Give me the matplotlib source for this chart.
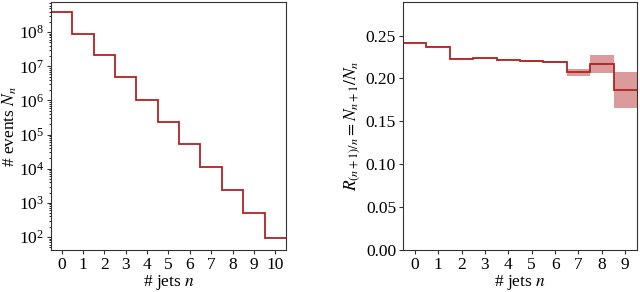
import numpy as np
import matplotlib
matplotlib.use('Agg')
import matplotlib.pyplot as plt
from matplotlib.ticker import LogLocator, NullFormatter

plt.rcParams['font.family'] = ['Liberation Serif', 'DejaVu Serif']
plt.rcParams['mathtext.fontset'] = 'stix'
plt.rcParams['font.size'] = 12.5

# number of events per jet multiplicity
jets = [0, 1, 2, 3, 4, 5, 6, 7, 8, 9, 10]
events = [3.77e8, 9.1e7, 2.15e7, 4.77e6, 1.06e6, 2.34e5, 5.15e4, 1.12e4, 2.32e3, 5.01e2, 9.5e1]

# staircase ratios R_(n+1)/n and their bands
ratio_n = [0, 1, 2, 3, 4, 5, 6, 7, 8, 9]
ratio = [0.2418, 0.2368, 0.2228, 0.2234, 0.2217, 0.2205, 0.2188, 0.2080, 0.2168, 0.1860]
ratio_lo = [0.2413, 0.2363, 0.2223, 0.2229, 0.2211, 0.2197, 0.2175, 0.2023, 0.2065, 0.1659]
ratio_hi = [0.2423, 0.2373, 0.2233, 0.2239, 0.2223, 0.2213, 0.2201, 0.2113, 0.2275, 0.2074]

col = '#b22222'

fig = plt.figure(figsize=(6.4, 2.92), dpi=100)
ax1 = fig.add_axes([0.0797, 0.1438, 0.367, 0.849])
ax2 = fig.add_axes([0.6297, 0.1438, 0.3656, 0.849])

edges1 = np.arange(len(jets) + 1) - 0.5
ax1.stairs(events, edges1, color=col, lw=1.3, baseline=None)
ax1.set_yscale('log')
ax1.set_xlim(-0.5, 10.5)
ax1.set_ylim(10**1.62, 10**8.88)
ax1.yaxis.set_major_locator(LogLocator(base=10, numticks=20))
ax1.yaxis.set_minor_locator(LogLocator(base=10, subs=np.arange(2, 10), numticks=20))
ax1.yaxis.set_minor_formatter(NullFormatter())
ax1.set_xticks(jets)
ax1.set_xlabel(r'# jets $n$', labelpad=0)
ax1.set_ylabel(r'# events $N_n$', labelpad=0)

edges2 = np.arange(len(ratio_n) + 1) - 0.5
ax2.stairs(ratio_hi, edges2, baseline=ratio_lo, fill=True, color=col, alpha=0.45, lw=0)
ax2.stairs(ratio, edges2, color=col, lw=1.3, baseline=None)
ax2.set_xlim(-0.5, 9.5)
ax2.set_ylim(0, 0.289)
ax2.set_xticks(ratio_n)
ax2.set_yticks([0, 0.05, 0.10, 0.15, 0.20, 0.25])
ax2.set_yticklabels(['0.00', '0.05', '0.10', '0.15', '0.20', '0.25'])
ax2.set_xlabel(r'# jets $n$', labelpad=0)
ax2.set_ylabel(r'$R_{(n+1)/n} = N_{n+1}/N_n$', labelpad=2)

for ax in (ax1, ax2):
    for s in ax.spines.values():
        s.set_color('#333333')
        s.set_linewidth(0.8)
    ax.tick_params(length=3, width=0.8, color='#333333', pad=2)
    ax.tick_params(which='minor', length=1.5, width=0.6)

fig.savefig('out.png', dpi=100)
